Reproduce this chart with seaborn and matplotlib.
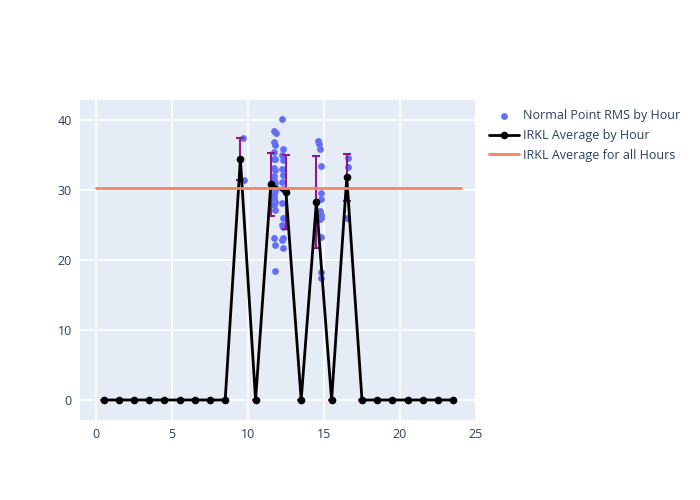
import numpy as np
import pandas as pd
import matplotlib
matplotlib.use("Agg")
import matplotlib.pyplot as plt
import seaborn as sns

# Normal point RMS observations (time of day in hours, RMS value)
np_hours = [9.67, 9.72,
            11.70, 11.82, 11.72, 11.80, 11.74, 11.70, 11.78, 11.72, 11.80, 11.74,
            11.70, 11.78, 11.72, 11.80, 11.74, 11.70, 11.78, 11.72, 11.80, 11.74,
            11.76, 11.78,
            12.27, 12.28, 12.24, 12.30, 12.26, 12.28, 12.24, 12.30, 12.26, 12.28,
            12.24, 12.30, 12.28, 12.26, 12.30,
            14.62, 14.66, 14.76, 14.80, 14.80, 14.78, 14.72, 14.80, 14.78, 14.76,
            14.82, 14.82, 14.80,
            16.55, 16.58, 16.52]
np_rms = [37.5, 31.4,
          38.5, 38.2, 36.8, 36.4, 35.5, 34.5, 34.4, 33.2, 32.8, 32.0,
          31.4, 31.0, 30.4, 29.8, 29.3, 28.8, 28.3, 27.8, 27.2, 23.2,
          22.2, 18.4,
          40.2, 35.9, 35.0, 34.3, 33.0, 32.2, 31.2, 30.2, 28.1, 26.0,
          25.0, 24.7, 23.2, 22.8, 21.7,
          37.0, 36.6, 35.9, 33.4, 29.6, 28.7, 27.0, 26.5, 26.0, 25.8,
          23.3, 18.3, 17.4,
          34.6, 33.3, 26.0]

# Hourly averages and their spread
avg_hours = [h + 0.5 for h in range(24)]
avg_values = [0, 0, 0, 0, 0, 0, 0, 0, 0, 34.4, 0, 30.8, 29.7, 0, 28.3, 0, 31.8,
              0, 0, 0, 0, 0, 0, 0]
avg_errors = [0, 0, 0, 0, 0, 0, 0, 0, 0, 3.0, 0, 4.5, 5.3, 0, 6.55, 0, 3.35,
              0, 0, 0, 0, 0, 0, 0]

overall_x = [0, 24]
overall_avg = [30.3, 30.3]

pts = pd.DataFrame({"hour": np_hours, "rms": np_rms})
avg = pd.DataFrame({"hour": avg_hours, "value": avg_values, "err": avg_errors})
ovr = pd.DataFrame({"hour": overall_x, "value": overall_avg})

sns.set_theme(style="darkgrid")
plt.rcParams["font.family"] = ["Open Sans", "DejaVu Sans"]
text_color = "#2a3f5f"

fig = plt.figure(figsize=(7, 5), dpi=100)
ax = fig.add_axes([80 / 700, 80 / 500, 396 / 700, 320 / 500])
ax.set_facecolor("#E5ECF6")

sns.scatterplot(data=pts, x="hour", y="rms", ax=ax, color="#636efa", s=24,
                linewidth=0, label="Normal Point RMS by Hour", zorder=3)
ax.errorbar(avg["hour"], avg["value"], yerr=avg["err"], fmt="none",
            ecolor="#8B1A8B", elinewidth=1.5, capsize=3, capthick=1.5, zorder=4)
sns.lineplot(data=avg, x="hour", y="value", ax=ax, color="black", linewidth=2,
             marker="o", markersize=5.5, markeredgewidth=0,
             label="IRKL Average by Hour", zorder=5)
sns.lineplot(data=ovr, x="hour", y="value", ax=ax, color="#F4845F", linewidth=2,
             label="IRKL Average for all Hours", zorder=6)

ax.set_xlim(-1.05, 25)
ax.set_ylim(-2.86, 42.86)
ax.set_xticks([0, 5, 10, 15, 20, 25])
ax.set_yticks([0, 10, 20, 30, 40])
ax.grid(color="white", linewidth=1.2)
ax.set_axisbelow(True)
for s in ax.spines.values():
    s.set_visible(False)
ax.tick_params(axis="both", length=0, labelsize=9, colors=text_color, pad=6)
ax.set_xlabel("")
ax.set_ylabel("")

leg = ax.legend(loc="upper left", bbox_to_anchor=(489 / 700, 1 - 109 / 500),
                bbox_transform=fig.transFigure, frameon=False, fontsize=9,
                handlelength=2.4, handletextpad=0.35, borderaxespad=0,
                borderpad=0, labelspacing=0.55)
for t in leg.get_texts():
    t.set_color(text_color)

fig.savefig("out.png", dpi=100)
